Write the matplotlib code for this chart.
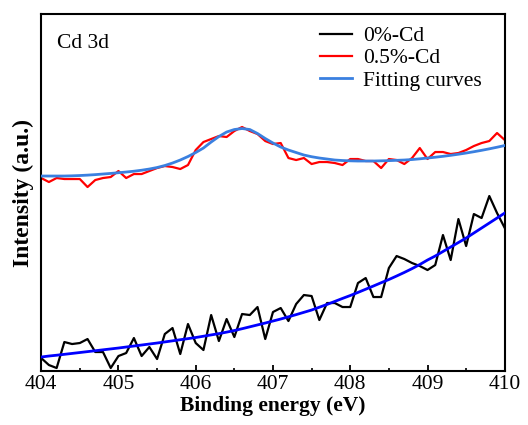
import numpy as np
from matplotlib import pyplot as plt
from matplotlib.ticker import MultipleLocator

# binding energy grid, 0.1 eV steps
energy = np.round(np.arange(404.0, 410.001, 0.1), 1)

# 0%-Cd raw data (a.u.)
cd0 = [13, 6, 3, 29, 27, 28, 32, 19, 19, 3,
       15, 18, 33, 15, 24, 12, 37, 43, 17, 47,
       28, 21, 56, 30, 52, 34, 57, 56, 64, 32,
       59, 63, 50, 67, 76, 75, 51, 68, 68, 64,
       64, 88, 93, 74, 74, 103, 115, 112, 108, 105,
       101, 106, 136, 111, 152, 125, 157, 153, 175, 158,
       143]

# 0%-Cd fitting curve
cd0_fit = [14, 15, 15.8, 16.7, 17.6, 18.5, 19.4, 20.3, 21.2, 22.1,
           23, 24, 25, 26, 27, 28, 29.1, 30.2, 31.3, 32.4,
           33.5, 34.8, 36.1, 37.4, 38.9, 40.5, 42.3, 44.2, 46.1, 48,
           50, 52, 54.2, 56.4, 58.7, 61, 63.8, 66.6, 69.6, 72.6,
           75.5, 78.6, 81.8, 85, 88.3, 91.5, 95, 98.6, 102.4, 106.5,
           111, 115, 119.5, 124, 128.5, 133, 138, 143, 148, 153,
           158]

# 0.5%-Cd raw data (a.u.)
cd05 = [193, 189, 193, 192, 192, 192, 184, 191, 193, 194,
        200, 193, 197, 197, 200, 203, 205, 204, 202, 206,
        221, 229, 232, 235, 234, 240, 244, 240, 237, 230,
        227, 228, 213, 211, 213, 207, 209, 209, 208, 206,
        212, 212, 210, 210, 203, 212, 211, 207, 213, 223,
        212, 219, 219, 217, 218, 221, 225, 228, 230, 238,
        231]

# 0.5%-Cd fitting curve
cd05_fit = [195, 195, 195, 195, 195.2, 195.5, 195.9, 196.4, 197, 197.6,
            198.3, 199, 199.8, 200.8, 202, 203.5, 205.5, 208, 211, 214.5,
            218.5, 223, 229, 234.5, 239, 241.5, 242.5, 241.5, 237.5, 232.5,
            228, 224, 221, 218.5, 216, 214.3, 213, 212, 211, 210.5,
            210.2, 210, 210, 210, 210.2, 210.4, 210.7, 211, 211.5, 212.2,
            213, 213.8, 214.7, 215.7, 216.8, 218, 219.3, 220.7, 222.2, 223.8,
            225.5]

plt.rcParams['font.family'] = ['Liberation Serif', 'DejaVu Serif']
fs = 15.5

fig = plt.figure(figsize=(5.28, 4.25), dpi=100)
ax = fig.add_axes([0.078, 0.127, 0.878, 0.840])

ax.plot(energy, cd0, color='black', lw=1.6, label='0%-Cd', zorder=2)
ax.plot(energy, cd05, color='#ff0000', lw=1.6, label='0.5%-Cd', zorder=2)
ax.plot(energy, cd05_fit, color='#3a80e0', lw=2.0, label='Fitting curves', zorder=3)
ax.plot(energy, cd0_fit, color='#0000ff', lw=2.0, zorder=3)

ax.set_xlim(404, 410)
ax.set_ylim(0, 357)
ax.xaxis.set_major_locator(MultipleLocator(1))
ax.xaxis.set_minor_locator(MultipleLocator(0.5))
ax.tick_params(axis='x', which='major', direction='in', length=4, width=1.3,
               labelsize=fs, pad=3)
ax.tick_params(axis='x', which='minor', direction='in', length=2.5, width=1.2)
ax.set_yticks([])
for s in ax.spines.values():
    s.set_linewidth(1.5)

ax.set_xlabel('Binding energy (eV)', fontsize=fs, fontweight='bold', labelpad=1)
ax.set_ylabel('Intensity (a.u.)', fontsize=17, fontweight='bold', labelpad=5)

ax.text(0.035, 0.945, 'Cd 3d', transform=ax.transAxes, fontsize=fs,
        ha='left', va='top')

ax.legend(loc='upper right', frameon=False, fontsize=fs, handlelength=1.5,
          handletextpad=0.5, labelspacing=0.1, borderaxespad=0.0,
          bbox_to_anchor=(0.969, 0.99))

fig.savefig('out.png', dpi=100)
